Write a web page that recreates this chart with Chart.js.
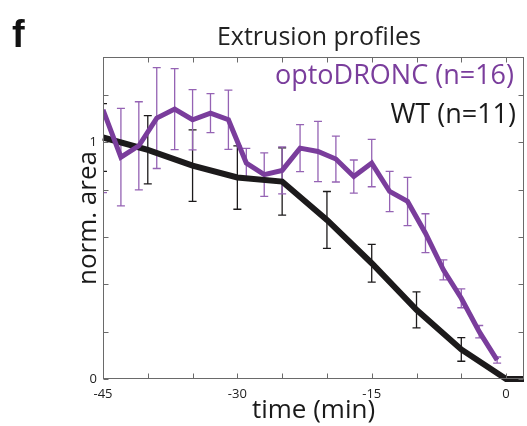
<!DOCTYPE html>
<html>
<head>
<meta charset="utf-8">
<script src="https://cdn.jsdelivr.net/npm/chart.js@4.4.0/dist/chart.umd.min.js"></script>
<style>
  html, body { margin: 0; padding: 0; background: #fff; }
</style>
</head>
<body>
<canvas id="extrusionChart" width="527" height="426"></canvas>
<script>
// time points (min before extrusion)
var optoTime = [-45, -43, -41, -39, -37, -35, -33, -31, -29, -27, -25, -23, -21, -19, -17, -15, -13, -11, -9, -7, -5, -3, -1];
var optoMean = [1.137, 0.937, 0.985, 1.102, 1.140, 1.095, 1.123, 1.095, 0.912, 0.863, 0.881, 0.975, 0.961, 0.929, 0.855, 0.912, 0.792, 0.750, 0.616, 0.461, 0.341, 0.200, 0.080];
var optoErr = [0.350, 0.206, 0.186, 0.213, 0.171, 0.127, 0.082, 0.125, 0.062, 0.092, 0.099, 0.099, 0.127, 0.097, 0.070, 0.100, 0.085, 0.102, 0.082, 0.042, 0.040, 0.026, 0.013];

var wtTime = [-45, -40, -35, -30, -25, -20, -15, -10, -5, 0, 2];
var wtMean = [1.020, 0.968, 0.901, 0.851, 0.834, 0.672, 0.489, 0.292, 0.125, 0, 0];
var wtErr = [0.143, 0.144, 0.151, 0.134, 0.142, 0.120, 0.080, 0.076, 0.050, null, null];

var xTicks = [-45, -40, -35, -30, -25, -20, -15, -10, -5, 0];
var xLabels = { '-45': '-45', '-30': '-30', '-15': '-15', '0': '0' };
var yTicks = [0, 0.2, 0.4, 0.6, 0.8, 1.0, 1.2];
var yLabels = { '0': '0', '1': '1' };

var PURPLE = '#7a3d9c';
var PURPLE_BAR = '#9563b4';
var BLACK = '#1c1a1b';
var AXIS = '#6a6a6a';
var FONT = '"Open Sans", "Noto Sans", sans-serif';

function toPoints(xs, ys) {
  return xs.map(function (x, i) { return { x: x, y: ys[i] }; });
}

function drawErrorBars(chart, xs, ys, errs, color) {
  var ctx = chart.ctx;
  var sx = chart.scales.x, sy = chart.scales.y;
  ctx.save();
  ctx.strokeStyle = color;
  ctx.lineWidth = 1.3;
  for (var i = 0; i < xs.length; i++) {
    if (errs[i] == null) continue;
    var px = sx.getPixelForValue(xs[i]);
    var top = sy.getPixelForValue(ys[i] + errs[i]);
    var bot = sy.getPixelForValue(ys[i] - errs[i]);
    ctx.beginPath();
    ctx.moveTo(px, top); ctx.lineTo(px, bot);
    ctx.moveTo(px - 4, top); ctx.lineTo(px + 4, top);
    ctx.moveTo(px - 4, bot); ctx.lineTo(px + 4, bot);
    ctx.stroke();
  }
  ctx.restore();
}

var decor = {
  id: 'decor',
  beforeDatasetsDraw: function (chart) {
    var a = chart.chartArea;
    var ctx = chart.ctx;
    ctx.save();
    ctx.beginPath();
    ctx.rect(a.left, a.top, a.right - a.left, a.bottom - a.top);
    ctx.clip();
    drawErrorBars(chart, wtTime, wtMean, wtErr, BLACK);
    drawErrorBars(chart, optoTime, optoMean, optoErr, PURPLE_BAR);
    ctx.restore();
  },
  afterDraw: function (chart) {
    var ctx = chart.ctx;
    var a = chart.chartArea;
    var sx = chart.scales.x, sy = chart.scales.y;
    var L = Math.round(a.left) + 0.5, R = Math.round(a.right) - 0.5;
    var T = Math.round(a.top) + 0.5, B = Math.round(a.bottom) - 0.5;

    ctx.save();
    ctx.strokeStyle = AXIS;
    ctx.lineWidth = 1;
    ctx.strokeRect(L, T, R - L, B - T);
    ctx.beginPath();
    xTicks.forEach(function (v) {
      var px = Math.round(sx.getPixelForValue(v)) + 0.5;
      ctx.moveTo(px, B); ctx.lineTo(px, B - 5);
      ctx.moveTo(px, T); ctx.lineTo(px, T + 5);
    });
    yTicks.forEach(function (v) {
      var py = Math.round(sy.getPixelForValue(v)) + 0.5;
      ctx.moveTo(L, py); ctx.lineTo(L + 5, py);
      ctx.moveTo(R, py); ctx.lineTo(R - 5, py);
    });
    ctx.stroke();

    ctx.textBaseline = 'alphabetic';
    ctx.fillStyle = '#111';
    ctx.font = 'bold 38px "Liberation Sans", Arial, sans-serif';
    ctx.textAlign = 'left';
    ctx.fillText('f', 12, 47);

    ctx.fillStyle = '#222';
    ctx.font = '25px ' + FONT;
    ctx.textAlign = 'center';
    ctx.fillText('Extrusion profiles', 319, 45);

    ctx.textAlign = 'right';
    ctx.font = '27px ' + FONT;
    ctx.fillStyle = PURPLE;
    ctx.fillText('optoDRONC (n=16)', 514, 84);
    ctx.fillStyle = '#1a1a1a';
    ctx.fillText('WT (n=11)', 516, 123);
    ctx.restore();
  }
};

new Chart(document.getElementById('extrusionChart').getContext('2d'), {
  type: 'line',
  data: {
    datasets: [{
      label: 'optoDRONC (n=16)',
      data: toPoints(optoTime, optoMean),
      borderColor: PURPLE,
      borderWidth: 5,
      borderJoinStyle: 'miter',
      pointRadius: 0,
      tension: 0,
      fill: false
    }, {
      label: 'WT (n=11)',
      data: toPoints(wtTime, wtMean),
      borderColor: BLACK,
      borderWidth: 6,
      borderJoinStyle: 'miter',
      pointRadius: 0,
      tension: 0,
      fill: false,
      clip: false
    }]
  },
  options: {
    responsive: false,
    animation: false,
    devicePixelRatio: 1,
    layout: {
      padding: { left: 0, right: 3, top: 57, bottom: 0 }
    },
    plugins: {
      legend: { display: false },
      title: { display: false },
      tooltip: { enabled: false }
    },
    scales: {
      x: {
        type: 'linear',
        min: -45,
        max: 2,
        afterBuildTicks: function (s) {
          s.ticks = xTicks.map(function (v) { return { value: v }; });
        },
        afterFit: function (s) { s.height = 47; },
        grid: { display: false, drawTicks: false },
        border: { display: false },
        ticks: {
          padding: 7,
          maxRotation: 0,
          autoSkip: false,
          color: '#222',
          font: { family: FONT, size: 13 },
          callback: function (v) { return xLabels[String(v)] || ''; }
        },
        title: {
          display: true,
          text: 'time (min)',
          color: '#1a1a1a',
          font: { family: FONT, size: 26, lineHeight: 1 },
          padding: { top: 0, bottom: 2 }
        }
      },
      y: {
        min: 0,
        max: 1.36,
        afterBuildTicks: function (s) {
          s.ticks = yTicks.map(function (v) { return { value: v }; });
        },
        afterFit: function (s) { s.width = 103; },
        grid: { display: false, drawTicks: false },
        border: { display: false },
        ticks: {
          padding: 6,
          autoSkip: false,
          color: '#222',
          font: { family: FONT, size: 13 },
          callback: function (v) { return yLabels[String(Math.round(v * 10) / 10)] || ''; }
        },
        title: {
          display: true,
          text: 'norm. area',
          color: '#1a1a1a',
          font: { family: FONT, size: 26, lineHeight: 1 },
          padding: { top: 76, bottom: 0 }
        }
      }
    }
  },
  plugins: [decor]
});
</script>
</body>
</html>
